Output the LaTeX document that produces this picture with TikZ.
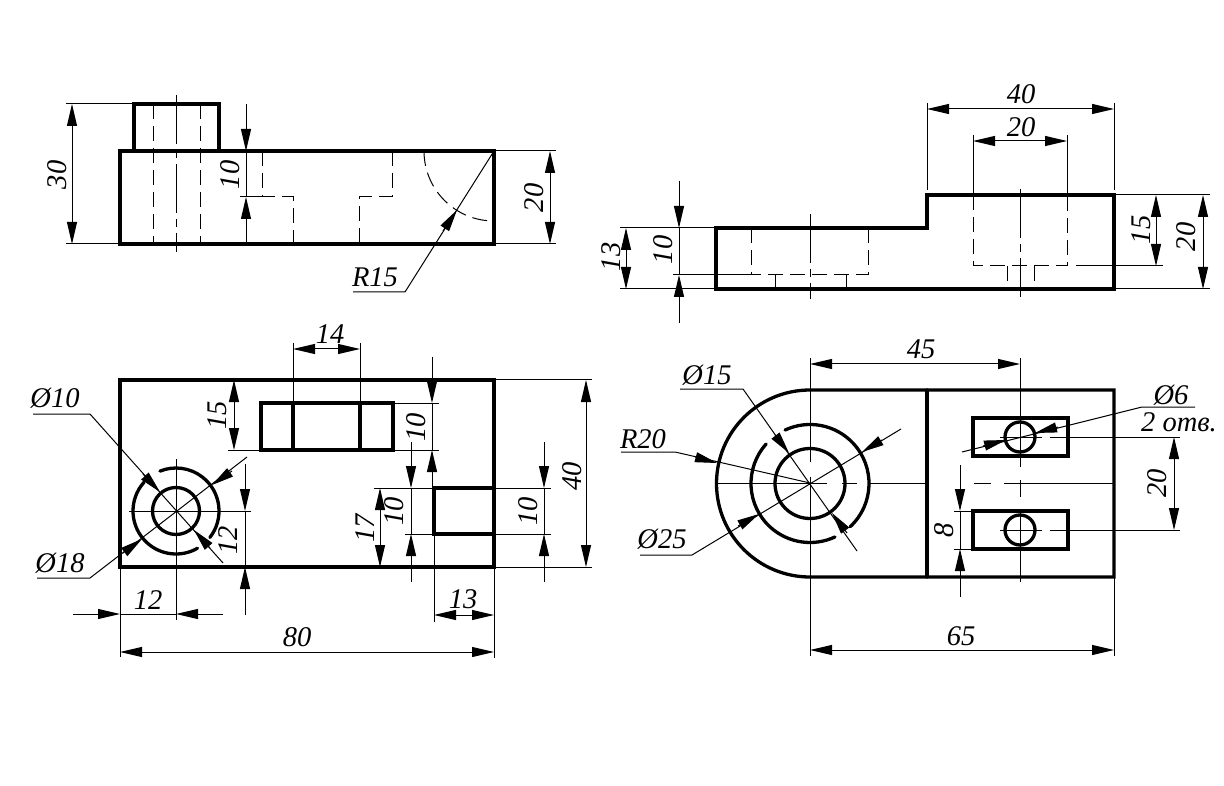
\documentclass[tikz,border=0pt]{standalone}
\usepackage{fontspec}
\setmainfont{Liberation Serif}
\usetikzlibrary{arrows.meta}
\tikzset{
	x=1pt, y=1pt,
	contour/.style={line width=3.3pt, line cap=round, line join=miter},
	thinline/.style={line width=1pt},
	hidden/.style={line width=1pt, dash pattern=on 15pt off 7pt},
	axisline/.style={line width=1pt, dash pattern=on 49pt off 6pt on 8pt off 6pt},
	tipline/.style={line width=1pt, -{Triangle[length=22pt,width=10pt]}},
	bothtips/.style={line width=1pt, {Triangle[length=22pt,width=10pt]}-{Triangle[length=22pt,width=10pt]}},
	size/.style={font=\itshape\fontsize{28.5}{28.5}\selectfont, inner sep=0pt},
	sizeup/.style={size, rotate=90}
}
% dimension with the tips inside the span
\def\dimin(#1)(#2){\draw[bothtips] (#1) -- (#2);}
% dimension with the tips coming from outside: far end, tip, tip, far end
\def\dimout(#1)(#2)(#3)(#4){\draw[tipline] (#1) -- (#2); \draw[tipline] (#4) -- (#3); \draw[thinline] (#2) -- (#3);}
\def\ringarc(#1,#2)(#3:#4:#5){\draw[contour] (#1pt,#2pt) ++(#3:#5pt) arc[start angle=#3, end angle=#4, radius=#5pt];}

\begin{document}
\begin{tikzpicture}
			\useasboundingbox (0,0) rectangle (1224,-786);
			
			%%%%% TOP LEFT VIEW %%%%%
			
			\draw[hidden] (153,-104) -- (153,-244);
			\draw[hidden] (200,-104) -- (200,-244);
			\draw[axisline] (176,-95) -- (176,-252);
			\draw[hidden] (262,-151) -- (262,-197) -- (293,-197) -- (293,-244);
			\draw[hidden] (392,-151) -- (392,-197) -- (359,-197) -- (359,-244);
			\draw[hidden] (424,-151) arc[start angle=180, end angle=270, radius=70pt];
			
			\draw[contour] (120,-151) rectangle (494,-244);
			\draw[contour] (134,-151) -- (134,-104) -- (219,-104) -- (219,-151);
			
			\draw[thinline] (66,-104) -- (134,-104);
			\draw[thinline] (66,-244) -- (120,-244);
			\dimin(72,-104)(72,-244)
			\node[sizeup] (sizeA) at (57,-175) {30};
			
			\draw[thinline] (240,-197) -- (262,-197);
			\dimout(246,-104)(246,-151)(246,-197)(246,-244)
			\node[sizeup] (sizeB) at (230,-175) {10};
			
			\draw[thinline] (494,-151) -- (556,-151);
			\draw[thinline] (494,-244) -- (556,-244);
			\dimin(550,-151)(550,-244)
			\node[sizeup] (sizeC) at (534,-198) {20};
			
			\draw[thinline] (353,-292) -- (405,-292) -- (494,-151);
			\draw[tipline] (443,-231) -- (457,-210);
			\node[size] (sizeD) at (375,-277) {R15};
			
			%%%%% TOP RIGHT VIEW %%%%%
			
			\draw[hidden] (751,-228) -- (751,-275);
			\draw[hidden] (868,-228) -- (868,-275) -- (751,-275);
			\draw[hidden] (775,-275) -- (775,-289);
			\draw[hidden] (846,-275) -- (846,-289);
			\draw[axisline] (810,-214) -- (810,-299);
			\draw[hidden] (973,-195) -- (973,-266) -- (1067,-266) -- (1067,-195);
			\draw[hidden] (1007,-266) -- (1007,-289);
			\draw[hidden] (1034,-266) -- (1034,-289);
			\draw[axisline] (1020,-189) -- (1020,-297);
			
			\draw[contour] (716,-228) -- (927,-228) -- (927,-195) -- (1114,-195) -- (1114,-289) -- (716,-289) -- cycle;
			
			\draw[thinline] (620,-228) -- (716,-228);
			\draw[thinline] (620,-289) -- (716,-289);
			\dimin(626,-228)(626,-289)
			\node[sizeup] (sizeE) at (611,-257) {13};
			
			\draw[thinline] (673,-275) -- (751,-275);
			\dimout(679,-181)(679,-228)(679,-275)(679,-323)
			\node[sizeup] (sizeF) at (663,-250) {10};
			
			\draw[thinline] (927,-103) -- (927,-190);
			\draw[thinline] (1114,-103) -- (1114,-190);
			\dimin(927,-109)(1114,-109)
			\node[size] (sizeG) at (1021,-94) {40};
			
			\draw[thinline] (973,-135) -- (973,-195);
			\draw[thinline] (1067,-135) -- (1067,-195);
			\dimin(973,-141)(1067,-141)
			\node[size] (sizeH) at (1021,-127) {20};
			
			\draw[thinline] (1076,-266) -- (1163,-266);
			\dimin(1156,-195)(1156,-266)
			\node[sizeup] (sizeI) at (1141,-230) {15};
			
			\draw[thinline] (1114,-195) -- (1210,-195);
			\draw[thinline] (1114,-289) -- (1210,-289);
			\dimin(1203,-195)(1203,-289)
			\node[sizeup] (sizeJ) at (1186,-237) {20};
			
			%%%%% BOTTOM LEFT VIEW %%%%%
			
			\draw[contour] (120,-380) rectangle (494,-567);
			\draw[contour] (261,-403) rectangle (393,-450);
			\draw[contour] (293,-403) -- (293,-450);
			\draw[contour] (360,-403) -- (360,-450);
			\draw[contour] (434,-488) rectangle (494,-534);
			
			\draw[contour] (176,-511) circle (23.5pt);
			\ringarc(176,-511)(-38:112:43)
			\ringarc(176,-511)(138:300:43)
			
			\draw[thinline] (129,-511) -- (251,-511);
			\draw[thinline] (176,-459) -- (176,-620);
			
			\draw[thinline] (33,-414) -- (90,-414) -- (223,-563);
			\draw[tipline] (143,-474) -- (160,-492);
			\draw[tipline] (210,-548) -- (194,-530);
			\node[size] (sizeK) at (55,-398) {Ø10};
			
			\draw[thinline] (37,-578) -- (90,-578) -- (247,-457);
			\draw[tipline] (123,-553) -- (142,-539);
			\draw[tipline] (232,-471) -- (212,-485);
			\node[size] (sizeL) at (60,-563) {Ø18};
			
			\dimout(245,-464)(245,-511)(245,-567)(245,-615)
			\node[sizeup] (sizeM) at (228,-540) {12};
			
			\dimout(73,-614)(120,-614)(176,-614)(223,-614)
			\node[size] (sizeN) at (148,-600) {12};
			
			\draw[thinline] (120,-567) -- (120,-657);
			\draw[thinline] (494,-567) -- (494,-658);
			\dimin(120,-652)(494,-652)
			\node[size] (sizeO) at (297,-637) {80};
			
			\draw[thinline] (434,-534) -- (434,-622);
			\dimin(434,-615)(494,-615)
			\node[size] (sizeP) at (463,-599) {13};
			
			\draw[thinline] (293,-343) -- (293,-403);
			\draw[thinline] (360,-343) -- (360,-403);
			\dimin(293,-349)(360,-349)
			\node[size] (sizeQ) at (330,-334) {14};
			
			\draw[thinline] (228,-450) -- (261,-450);
			\dimin(234,-380)(234,-450)
			\node[sizeup] (sizeR) at (217,-415) {15};
			
			\draw[thinline] (393,-403) -- (439,-403);
			\draw[thinline] (393,-450) -- (439,-450);
			\dimout(432,-357)(432,-403)(432,-450)(432,-495)
			\node[sizeup] (sizeS) at (416,-427) {10};
			
			\draw[thinline] (374,-488) -- (434,-488);
			\draw[thinline] (405,-534) -- (434,-534);
			\dimin(380,-488)(380,-567)
			\node[sizeup] (sizeT) at (365,-528) {17};
			
			\dimout(411,-442)(411,-488)(411,-534)(411,-582)
			\node[sizeup] (sizeU) at (394,-511) {10};
			
			\draw[thinline] (494,-488) -- (551,-488);
			\draw[thinline] (494,-534) -- (551,-534);
			\dimout(544,-442)(544,-488)(544,-534)(544,-582)
			\node[sizeup] (sizeV) at (528,-511) {10};
			
			\draw[thinline] (494,-380) -- (592,-380);
			\draw[thinline] (494,-567) -- (592,-567);
			\dimin(586,-380)(586,-567)
			\node[sizeup] (sizeW) at (572,-476) {40};
			
			%%%%% BOTTOM RIGHT VIEW %%%%%
			
			\draw[contour] (810,-390) -- (1114,-390) -- (1114,-577) -- (810,-577) arc[start angle=270, end angle=90, radius=93.5pt];
			\draw[contour] (927,-390) -- (927,-577);
			\draw[contour] (973,-418) rectangle (1068,-456);
			\draw[contour] (973,-511) rectangle (1068,-549);
			\draw[contour] (1020,-437) circle (15pt);
			\draw[contour] (1020,-530) circle (15pt);
			
			\draw[contour] (810,-483.5) circle (35pt);
			\ringarc(810,-483.5)(-47:115:59)
			\ringarc(810,-483.5)(138:295:59)
			
			\draw[thinline] (717,-483) -- (827,-483);
			\draw[thinline] (842,-483) -- (857,-483);
			\draw[thinline] (869,-483) -- (927,-483);
			\draw[thinline] (974,-483) -- (991,-483);
			\draw[thinline] (1004,-483) -- (1114,-483);
			\draw[thinline] (810,-358) -- (810,-462);
			\draw[thinline] (810,-477) -- (810,-656);
			\draw[thinline] (1020,-358) -- (1020,-467);
			\draw[thinline] (1020,-480) -- (1020,-497);
			\draw[thinline] (1020,-510) -- (1020,-582);
			\draw[thinline] (1000,-437) -- (1042,-437);
			\draw[thinline] (1050,-437) -- (1180,-437);
			\draw[thinline] (1000,-530) -- (1042,-530);
			\draw[thinline] (1050,-530) -- (1180,-530);
			
			\dimin(810,-364)(1020,-364)
			\node[size] (sizeX) at (921,-349) {45};
			
			\draw[thinline] (1114,-577) -- (1114,-656);
			\dimin(810,-650)(1114,-650)
			\node[size] (sizeY) at (961,-636) {65};
			
			\draw[thinline] (680,-389) -- (743,-389) -- (857,-551);
			\draw[tipline] (775,-435) -- (789,-453);
			\draw[tipline] (847,-533) -- (832,-513);
			\node[size] (sizeZ) at (707,-375) {Ø15};
			
			\draw[thinline] (621,-452) -- (675,-452) -- (810,-483);
			\draw[tipline] (695,-457) -- (717,-463);
			\node[size] (sizeAA) at (643,-439) {R20};
			
			\draw[thinline] (640,-555) -- (692,-555) -- (901,-429);
			\draw[tipline] (738,-526) -- (759,-514);
			\draw[tipline] (882,-440) -- (862,-452);
			\node[size] (sizeAB) at (662,-539) {Ø25};
			
			\draw[thinline] (1195,-407) -- (1142,-407) -- (962,-452);
			\draw[tipline] (1058,-427) -- (1035,-433);
			\draw[tipline] (983,-446) -- (1006,-440);
			\node[size] (sizeAC) at (1171,-395) {Ø6};
			\node[size] (sizeAD) at (1179,-422) {2 отв.};
			
			\dimin(1174,-437)(1174,-530)
			\node[sizeup] (sizeAE) at (1157,-483) {20};
			
			\draw[thinline] (954,-511) -- (973,-511);
			\draw[thinline] (954,-549) -- (973,-549);
			\dimout(960,-465)(960,-511)(960,-549)(960,-597)
			\node[sizeup] (sizeAF) at (944,-530) {8};
			
		\end{tikzpicture}
\end{document}
